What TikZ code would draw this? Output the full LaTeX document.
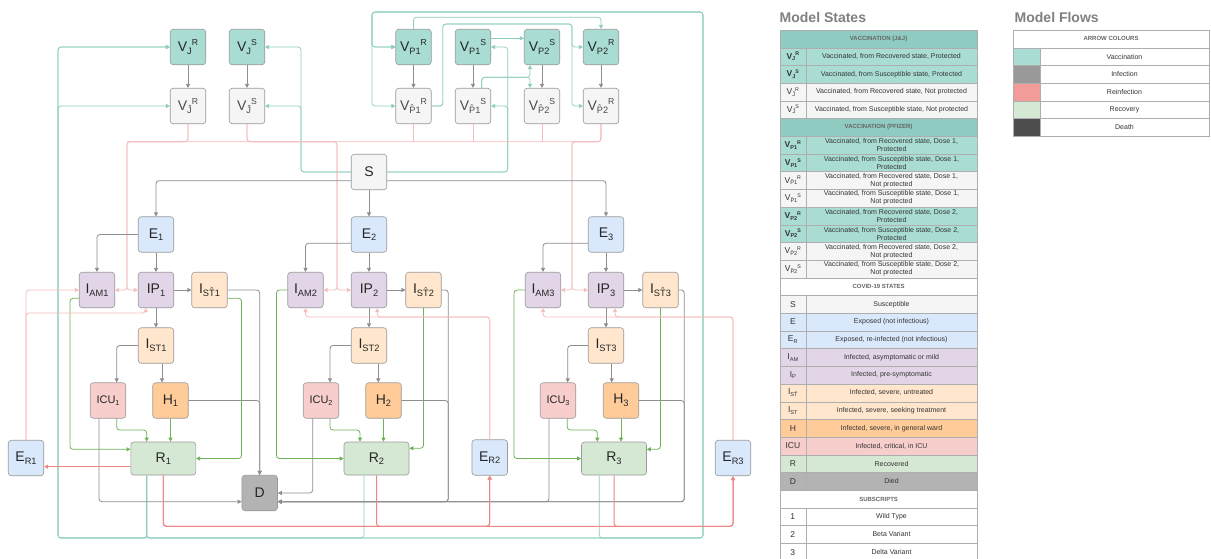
\documentclass[tikz,border=0pt]{standalone}
\usepackage{fontspec}
\setmainfont{Liberation Sans}
\usepackage{tikz}
\usetikzlibrary{arrows.meta}
\definecolor{vacc}{HTML}{A9DDD4}
\definecolor{vaccscuro}{HTML}{8FCBC0}
\definecolor{grigino}{HTML}{F5F5F5}
\definecolor{azzurro}{HTML}{DAE8FC}
\definecolor{viola}{HTML}{E1D5E7}
\definecolor{pesca}{HTML}{FFE6CC}
\definecolor{arancio}{HTML}{FFCC99}
\definecolor{rosa}{HTML}{F8CECC}
\definecolor{verdino}{HTML}{D5E8D4}
\definecolor{grigio}{HTML}{B3B3B3}
\definecolor{bordo}{HTML}{9A9A9A}
\definecolor{lineavacc}{HTML}{8CCDBF}
\definecolor{lineainf}{HTML}{8E8E8E}
\definecolor{linearein}{HTML}{EE8683}
\definecolor{linearec}{HTML}{6FB35A}
\definecolor{infez}{HTML}{999999}
\definecolor{reinf}{HTML}{F19C99}
\definecolor{morte}{HTML}{4D4D4D}
\definecolor{titolo}{HTML}{808080}
\makeatletter
\newcommand{\lo}[1]{\raisebox{-0.35ex}{\fontsize{\fpeval{0.66*\f@size}}{1}\selectfont #1}}
\newcommand{\hi}[1]{\raisebox{0.75ex}{\fontsize{\fpeval{0.62*\f@size}}{1}\selectfont #1}}
\makeatother

\begin{document}
\begin{tikzpicture}[x=1pt, y=-1pt,
    nodo/.style={draw=bordo, rounded corners=3pt, minimum width=35.5pt, minimum height=35.5pt,
      inner sep=0pt, line width=0.6pt, font=\fontsize{14}{16}\selectfont, text=black!85},
    largo/.style={nodo, minimum width=65pt, minimum height=33pt},
    prot/.style={nodo, fill=vacc},
    nonprot/.style={nodo, fill=grigino, text=black!70},
    freccia/.style={line width=0.8pt, rounded corners=3pt, -{Triangle[length=4pt, width=4pt]}},
    vac/.style={freccia, lineavacc, line width=0.7pt},
    inf/.style={freccia, lineainf},
    rein/.style={freccia, linearein, line width=1pt},
    reinl/.style={freccia, linearein!55},
    rec/.style={freccia, linearec},
    cella/.style={draw=bordo!80, line width=0.4pt},
    testo/.style={font=\fontsize{7}{8}\selectfont, text=black!80, inner sep=0pt},
    sigla/.style={font=\fontsize{8.5}{9}\selectfont, text=black!80, inner sep=0pt},
    intest/.style={font=\fontsize{6}{7}\selectfont\bfseries, text=black!60, inner sep=0pt},
    titolo/.style={font=\fontsize{14}{16}\selectfont\bfseries, text=titolo, inner sep=0pt}]
  \useasboundingbox[fill=white] (0,0) rectangle (1211,558);

  % Vaccinazione J&J
  \node[prot] (vjr) at (188,47) {V\lo{J}\hi{R}};
  \node[prot] (vjs) at (247,47) {V\lo{J}\hi{S}};
  \node[nonprot] (vjrn) at (188,106) {V\lo{\^J}\hi{R}};
  \node[nonprot] (vjsn) at (247,106) {V\lo{\^J}\hi{S}};
  % Vaccinazione Pfizer
  \node[prot] (vp1r) at (413.5,47) {V\lo{P1}\hi{R}};
  \node[prot] (vp1s) at (473,47) {V\lo{P1}\hi{S}};
  \node[prot] (vp2s) at (542,47) {V\lo{P2}\hi{S}};
  \node[prot] (vp2r) at (601,47) {V\lo{P2}\hi{R}};
  \node[nonprot] (vp1rn) at (413.5,106) {V\lo{\^P1}\hi{R}};
  \node[nonprot] (vp1sn) at (473,106) {V\lo{\^P1}\hi{S}};
  \node[nonprot] (vp2sn) at (542,106) {V\lo{\^P2}\hi{S}};
  \node[nonprot] (vp2rn) at (601,106) {V\lo{\^P2}\hi{R}};
  \node[nonprot, text=black!85] (s) at (369,172) {S};

  % Variante 1
  \node[nodo, fill=azzurro] (e1) at (156,234.5) {E\lo{1}};
  \node[nodo, fill=viola] (iam1) at (97,290) {I\lo{AM1}};
  \node[nodo, fill=viola] (ip1) at (156,290) {IP\lo{1}};
  \node[nodo, fill=pesca] (isth1) at (209.5,290) {I\lo{S\^T1}};
  \node[nodo, fill=pesca] (ist1) at (156,345.5) {I\lo{ST1}};
  \node[nodo, fill=rosa, font=\fontsize{11}{13}\selectfont] (icu1) at (108,400.5) {ICU\lo{1}};
  \node[nodo, fill=arancio] (h1) at (170.5,400.5) {H\lo{1}};
  \node[largo, fill=verdino] (r1) at (163.3,458.5) {R\lo{1}};
  \node[nodo, fill=azzurro] (er1) at (26,458) {E\lo{R1}};
  % Variante 2
  \node[nodo, fill=azzurro] (e2) at (369,234.5) {E\lo{2}};
  \node[nodo, fill=viola] (iam2) at (305.5,290) {I\lo{AM2}};
  \node[nodo, fill=viola] (ip2) at (369,290) {IP\lo{2}};
  \node[nodo, fill=pesca] (isth2) at (423.5,290) {I\lo{S\^T2}};
  \node[nodo, fill=pesca] (ist2) at (369,345.5) {I\lo{ST2}};
  \node[nodo, fill=rosa, font=\fontsize{11}{13}\selectfont] (icu2) at (321,400.5) {ICU\lo{2}};
  \node[nodo, fill=arancio] (h2) at (383.5,400.5) {H\lo{2}};
  \node[largo, fill=verdino] (r2) at (376.5,458.5) {R\lo{2}};
  \node[nodo, fill=azzurro] (er2) at (489.7,457.5) {E\lo{R2}};
  % Variante 3
  \node[nodo, fill=azzurro] (e3) at (606,234.5) {E\lo{3}};
  \node[nodo, fill=viola] (iam3) at (543,290) {I\lo{AM3}};
  \node[nodo, fill=viola] (ip3) at (606,290) {IP\lo{3}};
  \node[nodo, fill=pesca] (isth3) at (660.5,290) {I\lo{S\^T3}};
  \node[nodo, fill=pesca] (ist3) at (606,345.5) {I\lo{ST3}};
  \node[nodo, fill=rosa, font=\fontsize{11}{13}\selectfont] (icu3) at (558,400.5) {ICU\lo{3}};
  \node[nodo, fill=arancio] (h3) at (621,400.5) {H\lo{3}};
  \node[largo, fill=verdino] (r3) at (614,458.5) {R\lo{3}};
  \node[nodo, fill=azzurro] (er3) at (733,458) {E\lo{R3}};
  % Decesso
  \node[nodo, fill=grigio] (d) at (259.7,493) {D};

  % Punti di passaggio
  \coordinate (tl) at (58,538);
  \coordinate (tr) at (703,538);
  \coordinate (tt) at (372,12);
  \coordinate (sjl) at (301,0);
  \coordinate (sjr) at (507.7,0);
  \coordinate (pk) at (572,24);
  \coordinate (bus) at (0,141.7);
  \coordinate (jn1) at (127,290);
  \coordinate (jn2) at (337,290);
  \coordinate (jn3) at (572,290);
  \coordinate (k2) at (448.3,501.7);
  \coordinate (k3) at (684.3,501.7);

  % Vaccinazione: frecce
  \draw[inf] (vjr) -- (vjrn);
  \draw[inf] (vjs) -- (vjsn);
  \draw[inf] (vp1r) -- (vp1rn);
  \draw[inf] (vp1s) -- (vp1sn);
  \draw[inf] (vp2s) -- (vp2sn);
  \draw[inf] (vp2r) -- (vp2rn);
  \draw[vac] (s.west) -| (vjs.east -| sjl) -- (vjs.east);
  \draw[vac] (s.west) -| (vjsn.east -| sjl) -- (vjsn.east);
  \draw[vac] (s.east) -| (vp1s.east -| sjr) -- (vp1s.east);
  \draw[vac] (s.east) -| (vp1sn.east -| sjr) -- (vp1sn.east);
  \draw[vac] ([yshift=8.7pt]vp1s.east) -- ([yshift=8.7pt]vp2s.west);
  \draw[vac] ([xshift=8.7pt]vp1sn.north) -- ++(0,-10.7) -| ([xshift=-12pt]vp2s.south);
  \draw[vac] ([xshift=8.7pt]vp1sn.north) -- ++(0,-10.7) -| ([xshift=-12pt]vp2sn.north);
  \draw[vac] (vp1r.north) -- ++(0,-11.7) -| (vp2r.north);
  \draw[vac] (vp1rn.east) -- ++(11.3,0) |- (pk) |- (vp2r.west);
  \draw[vac] (vp1rn.east) -- ++(11.3,0) |- (pk) |- (vp2rn.west);
  \draw[vac] ([xshift=-16.6pt]r1.south) |- (tl) |- (vjr.west);
  \draw[vac] ([xshift=-16.6pt]r1.south) |- (tl) |- (vjrn.west);
  \draw[vac] ([xshift=-16.6pt]r1.south) |- (tr) |- (tt) |- (vp1r.west);
  \draw[vac] ([xshift=-16.6pt]r1.south) |- (tr) |- (tt) |- (vp1rn.west);
  \draw[vac] ([xshift=-12.5pt]r2.south) |- (tl) |- (vjr.west);
  \draw[vac] ([xshift=-14.7pt]r3.south) |- (tr) |- (tt) |- (vp1r.west);

  % Reinfezione dai vaccinati non protetti
  \draw[reinl] (vjrn.south) |- (jn1 |- bus) -- (jn1) -- (iam1.east);
  \draw[reinl] (vjrn.south) |- (jn1 |- bus) -- (jn1) -- (ip1.west);
  \draw[reinl] (vjsn.south) |- (jn2 |- bus) -- (jn2) -- (iam2.east);
  \draw[reinl] (vjsn.south) |- (jn2 |- bus) -- (jn2) -- (ip2.west);
  \draw[reinl] (vp2rn.south) |- (jn3 |- bus) -- (jn3) -- (iam3.east);
  \draw[reinl] (vp2rn.south) |- (jn3 |- bus) -- (jn3) -- (ip3.west);
  \draw[reinl, -] (vp2rn.south) |- (jn1 |- bus);
  \draw[reinl, -] (vp1rn.south) -- (vp1rn |- bus);
  \draw[reinl, -] (vp1sn.south) -- (vp1sn |- bus);
  \draw[reinl, -] (vp2sn.south) -- (vp2sn |- bus);

  % Infezione
  \draw[inf] ([yshift=-8.7pt]s.west) -| (e1);
  \draw[inf] (s) -- (e2);
  \draw[inf] ([yshift=-8.7pt]s.east) -| (e3);
  \draw[inf] (e1.west) -| (iam1.north);
  \draw[inf] ([yshift=-8.8pt]e2.west) -| (iam2.north);
  \draw[inf] ([yshift=-8.8pt]e3.west) -| (iam3.north);
  \draw[inf] (e1) -- (ip1);
  \draw[inf] (e2) -- (ip2);
  \draw[inf] (e3) -- (ip3);
  \draw[inf] (ip1) -- (isth1);
  \draw[inf] (ip2) -- (isth2);
  \draw[inf] (ip3) -- (isth3);
  \draw[inf] (ip1) -- (ist1);
  \draw[inf] (ip2) -- (ist2);
  \draw[inf] (ip3) -- (ist3);
  \draw[inf] (ist1.west) -| ([xshift=8.7pt]icu1.north);
  \draw[inf] (ist2.west) -| ([xshift=9pt]icu2.north);
  \draw[inf] (ist3.west) -| ([xshift=9.7pt]icu3.north);
  \draw[inf] ([xshift=6pt]ist1.south) -- ([xshift=-8.5pt]h1.north);
  \draw[inf] ([xshift=9.3pt]ist2.south) -- ([xshift=-5.2pt]h2.north);
  \draw[inf] ([xshift=5.7pt]ist3.south) -- ([xshift=-9.3pt]h3.north);

  % Decessi
  \draw[inf] ([xshift=-9pt]icu1.south) |- ([yshift=-8.7pt]d.west);
  \draw[inf] (isth1.east) -| (d.north);
  \draw[inf] (h1.east) -| (d.north);
  \draw[inf] ([xshift=-8.3pt]icu2.south) |- (d.east);
  \draw[inf] (isth2.east) -| (k2) -- ([yshift=-8.7pt]d.east);
  \draw[inf] (h2.east) -| (k2) -- ([yshift=-8.7pt]d.east);
  \draw[inf] ([xshift=-9pt]icu3.south) |- ([yshift=-8.7pt]d.east);
  \draw[inf] (isth3.east) -| (k3) -- ([yshift=-8.7pt]d.east);
  \draw[inf] (h3.east) -| (k3) -- ([yshift=-8.7pt]d.east);

  % Guarigione
  \draw[rec] ([yshift=-8.3pt]iam1.west) -- ++(-9,0) |- ([yshift=9.2pt]r1.west);
  \draw[rec] ([xshift=8.7pt]icu1.south) -- ++(0,11.5) -| ([xshift=-16.6pt]r1.north);
  \draw[rec] (h1) -- (h1 |- r1.north);
  \draw[rec] ([yshift=-8.3pt]isth1.east) -- ++(14,0) |- (r1.east);
  \draw[rec] (iam2.west) -- ++(-11,0) |- (r2.west);
  \draw[rec] ([xshift=9pt]icu2.south) -- ++(0,11.5) -| ([xshift=-16.5pt]r2.north);
  \draw[rec] (h2) -- (h2 |- r2.north);
  \draw[rec] (isth2.south) |- ([yshift=10.2pt]r2.east);
  \draw[rec] (iam3.west) -- ++(-11,0) |- (r3.west);
  \draw[rec] ([xshift=9.3pt]icu3.south) -- ++(0,11.5) -| ([xshift=-16.7pt]r3.north);
  \draw[rec] (h3) -- (h3 |- r3.north);
  \draw[rec] (isth3.south) |- ([yshift=9.2pt]r3.east);

  % Reinfezione dai guariti
  \draw[rein] ([yshift=-8.2pt]r1.west) -- ([yshift=-8.7pt]er1.east);
  \draw[rein] (r1.south) -- ++(0,51) -| (er2.south);
  \draw[rein] (r1.south) -- ++(0,51) -| (er3.south);
  \draw[rein] (r2.south) -- ++(0,51) -| (er2.south);
  \draw[rein] (r3.south) -- ++(0,51) -| (er3.south);
  \draw[reinl] (er1.north) |- (iam1.west);
  \draw[reinl] (er1.north) -- ++(0,-127) -| ([xshift=-10.3pt]ip1.south);
  \draw[reinl] (er2.north) -- ++(0,-122.5) -| (iam2.south);
  \draw[reinl] (er2.north) -- ++(0,-122.5) -| ([xshift=8.3pt]ip2.south);
  \draw[reinl] (er3.north) -- ++(0,-123) -| (iam3.south);
  \draw[reinl] (er3.north) -- ++(0,-123) -| ([xshift=9pt]ip3.south);

  % Legenda: stati
  \def\riga{17.7}
  \node[titolo, anchor=west] (tstati) at (779.5,17) {Model States};
  \foreach \n/\testa/\colore in {0/{VACCINATION (J\&J)}/vaccscuro, 5/{VACCINATION (PFIZER)}/vaccscuro,
      14/{COVID-19 STATES}/white, 26/SUBSCRIPTS/white}{
    \draw[cella, fill=\colore] (780,30+\riga*\n) rectangle (977.3,30+\riga*\n+\riga);
    \node[intest] (int\n) at (878.6,38.85+\riga*\n) {\testa};
  }
  \foreach \n/\etich/\descr/\colore in {
      1/{\textbf{V\lo{J}\hi{R}}}/{Vaccinated, from Recovered state, Protected}/vacc,
      2/{\textbf{V\lo{J}\hi{S}}}/{Vaccinated, from Susceptible state, Protected}/vacc,
      3/{V\lo{\^J}\hi{R}}/{Vaccinated, from Recovered state, Not protected}/grigino,
      4/{V\lo{\^J}\hi{S}}/{Vaccinated, from Susceptible state, Not protected}/grigino,
      6/{\textbf{V\lo{P1}\hi{R}}}/{Vaccinated, from Recovered state, Dose 1,\\Protected}/vacc,
      7/{\textbf{V\lo{P1}\hi{S}}}/{Vaccinated, from Susceptible state, Dose 1,\\Protected}/vacc,
      8/{V\lo{\^P1}\hi{R}}/{Vaccinated, from Recovered state, Dose 1,\\Not protected}/grigino,
      9/{V\lo{\^P1}\hi{S}}/{Vaccinated, from Susceptible state, Dose 1,\\Not protected}/grigino,
      10/{\textbf{V\lo{P2}\hi{R}}}/{Vaccinated, from Recovered state, Dose 2,\\Protected}/vacc,
      11/{\textbf{V\lo{P2}\hi{S}}}/{Vaccinated, from Susceptible state, Dose 2,\\Protected}/vacc,
      12/{V\lo{\^P2}\hi{R}}/{Vaccinated, from Recovered state, Dose 2,\\Not protected}/grigino,
      13/{V\lo{\^P2}\hi{S}}/{Vaccinated, from Susceptible state, Dose 2,\\Not protected}/grigino,
      15/S/Susceptible/grigino,
      16/E/{Exposed (not infectious)}/azzurro,
      17/{E\lo{R}}/{Exposed, re-infected (not infectious)}/azzurro,
      18/{I\lo{AM}}/{Infected, asymptomatic or mild}/viola,
      19/{I\lo{P}}/{Infected, pre-symptomatic}/viola,
      20/{I\lo{S\^T}}/{Infected, severe, untreated}/pesca,
      21/{I\lo{ST}}/{Infected, severe, seeking treatment}/pesca,
      22/H/{Infected, severe, in general ward}/arancio,
      23/ICU/{Infected, critical, in ICU}/rosa,
      24/R/Recovered/verdino,
      25/D/Died/grigio,
      27/1/{Wild Type}/white,
      28/2/{Beta Variant}/white,
      29/3/{Delta Variant}/white}{
    \draw[cella, fill=\colore] (780,30+\riga*\n) rectangle (805.7,30+\riga*\n+\riga);
    \draw[cella, fill=\colore] (805.7,30+\riga*\n) rectangle (977.3,30+\riga*\n+\riga);
    \node[sigla] (lab\n) at (792.85,38.85+\riga*\n) {\etich};
    \node[testo, align=center] (des\n) at (891.5,38.85+\riga*\n) {\descr};
  }

  % Legenda: flussi
  \node[titolo, anchor=west] (tflussi) at (1014.5,17) {Model Flows};
  \draw[cella, fill=white] (1013.3,30) rectangle (1209,47.7);
  \node[intest] (intf) at (1111,38.85) {ARROW COLOURS};
  \foreach \n/\descr/\colore in {1/Vaccination/vacc, 2/Infection/infez, 3/Reinfection/reinf,
      4/Recovery/verdino, 5/Death/morte}{
    \draw[cella, fill=\colore] (1013.3,30+\riga*\n) rectangle (1040,30+\riga*\n+\riga);
    \draw[cella, fill=white] (1040,30+\riga*\n) rectangle (1209,30+\riga*\n+\riga);
    \node[testo] (fl\n) at (1124.5,38.85+\riga*\n) {\descr};
  }
\end{tikzpicture}
\end{document}
